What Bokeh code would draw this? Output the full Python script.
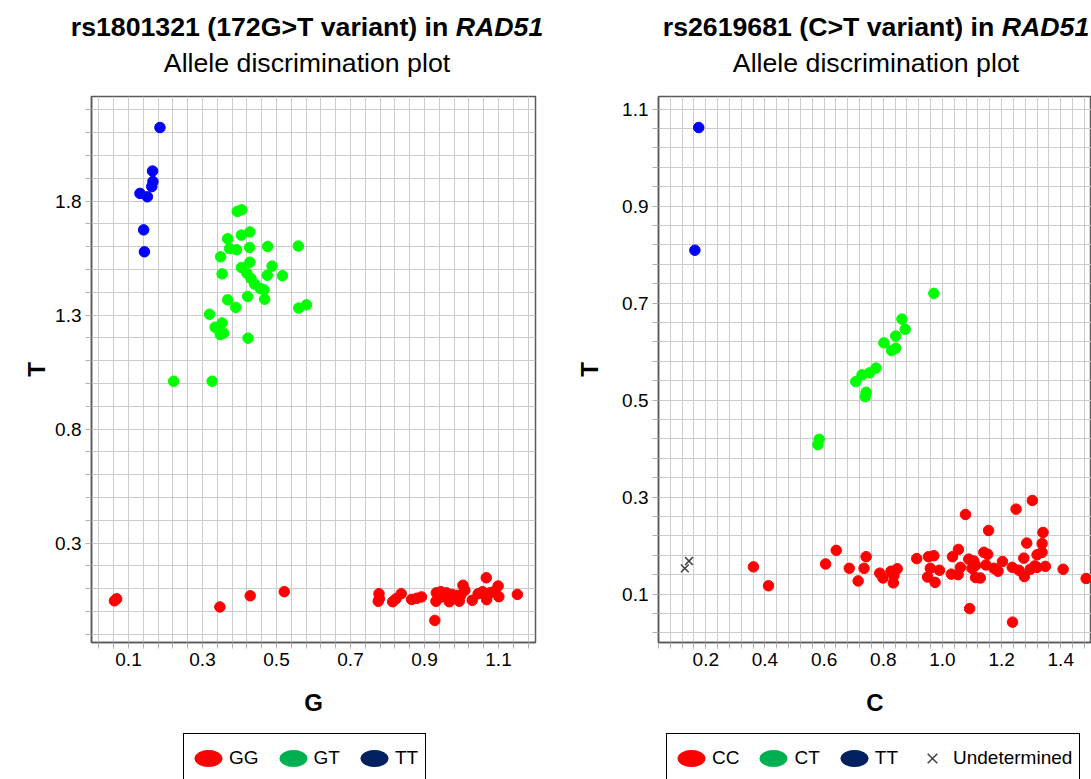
from bokeh.plotting import figure
from bokeh.models import FixedTicker, Range1d, Legend, LegendItem, Div, PrintfTickFormatter
from bokeh.layouts import row, column
from bokeh.embed import file_html
from bokeh.resources import INLINE

FONT = "Liberation Sans"

# ---------------- data: rs1801321 (G / T) ----------------
gg_x = [0.062, 0.068, 0.347, 0.429, 0.521, 0.777, 0.778, 0.775, 0.814, 0.823, 0.837, 0.865,
        0.879, 0.892, 0.928, 0.932, 0.931, 0.946, 0.959, 0.967, 0.980, 0.994, 1.004, 1.009,
        0.998, 1.029, 1.045, 1.067, 1.068, 1.077, 1.099, 1.101, 1.151, 0.944, 0.974, 1.057,
        1.088, 0.989]
gg_y = [0.047, 0.056, 0.020, 0.069, 0.087, 0.078, 0.056, 0.045, 0.043, 0.056, 0.078, 0.053,
        0.058, 0.064, -0.039, 0.082, 0.045, 0.064, 0.082, 0.043, 0.064, 0.045, 0.115, 0.093,
        0.071, 0.049, 0.078, 0.148, 0.052, 0.082, 0.112, 0.065, 0.075, 0.087, 0.075, 0.087,
        0.087, 0.071]
gt_x = [0.394, 0.406, 0.428, 0.405, 0.368, 0.373, 0.392, 0.427, 0.476, 0.559, 0.349, 0.428,
        0.405, 0.488, 0.353, 0.420, 0.431, 0.475, 0.516, 0.441, 0.456, 0.466, 0.468, 0.368,
        0.422, 0.390, 0.560, 0.581, 0.319, 0.353, 0.334, 0.348, 0.357, 0.423, 0.222, 0.326]
gt_y = [1.755, 1.762, 1.665, 1.651, 1.635, 1.592, 1.587, 1.597, 1.601, 1.603, 1.556, 1.532,
        1.509, 1.515, 1.481, 1.484, 1.461, 1.475, 1.473, 1.436, 1.417, 1.411, 1.370, 1.367,
        1.382, 1.334, 1.331, 1.345, 1.304, 1.266, 1.247, 1.215, 1.221, 1.199, 1.010, 1.010]
tt1_x = [0.185, 0.165, 0.166, 0.163, 0.131, 0.151, 0.141, 0.143]
tt1_y = [2.123, 1.932, 1.886, 1.864, 1.834, 1.819, 1.674, 1.578]

# ---------------- data: rs2619681 (C / T) ----------------
cc_x = [0.361, 0.412, 0.605, 0.641, 0.685, 0.715, 0.735, 0.742, 0.788, 0.799, 0.826, 0.847,
        0.834, 0.836, 0.913, 0.953, 0.971, 0.959, 0.950, 0.975, 0.990, 1.034, 1.054, 1.061,
        1.030, 1.053, 1.078, 1.089, 1.106, 1.112, 1.112, 1.128, 1.092, 1.140, 1.153, 1.147,
        1.156, 1.188, 1.203, 1.236, 1.237, 1.249, 1.259, 1.275, 1.277, 1.285, 1.304, 1.320,
        1.337, 1.337, 1.340, 1.348, 1.312, 1.297, 1.408, 1.486, 1.100, 1.174, 1.320]
cc_y = [0.156, 0.117, 0.162, 0.190, 0.153, 0.127, 0.153, 0.177, 0.143, 0.133, 0.147, 0.152,
        0.123, 0.138, 0.173, 0.177, 0.179, 0.153, 0.135, 0.124, 0.149, 0.177, 0.192, 0.155,
        0.141, 0.140, 0.264, 0.172, 0.168, 0.159, 0.134, 0.133, 0.070, 0.186, 0.182, 0.160,
        0.231, 0.147, 0.167, 0.155, 0.042, 0.275, 0.149, 0.174, 0.136, 0.205, 0.293, 0.181,
        0.186, 0.204, 0.227, 0.157, 0.158, 0.151, 0.151, 0.132, 0.153, 0.153, 0.155]
ct_x = [0.971, 0.863, 0.874, 0.842, 0.802, 0.842, 0.828, 0.775, 0.753, 0.728, 0.707, 0.742,
        0.739, 0.583, 0.579]
ct_y = [0.720, 0.667, 0.646, 0.632, 0.618, 0.607, 0.602, 0.566, 0.556, 0.552, 0.538, 0.516,
        0.507, 0.419, 0.408]
tt2_x = [0.176, 0.163]
tt2_y = [1.062, 0.809]
und_x = [0.129, 0.143]
und_y = [0.153, 0.168]

# ---------------- ticks ----------------
l_xmaj = [0.1, 0.3, 0.5, 0.7, 0.9, 1.1]
l_xmin = [round(0.02 + 0.04 * k, 2) for k in range(30)]
l_ymaj = [0.3, 0.8, 1.3, 1.8]
l_ymin = [round(-0.1 + 0.1 * k, 1) for k in range(24)]
r_xmaj = [0.2, 0.4, 0.6, 0.8, 1.0, 1.2, 1.4]
r_xmin = [round(0.04 + 0.04 * k, 2) for k in range(38)]
r_ymaj = [0.1, 0.3, 0.5, 0.7, 0.9, 1.1]
r_ymin = [round(0.02 + 0.04 * k, 2) for k in range(28)]

GRID = "#cccccc"
TICK = "#b0b0b0"
FRAME = "#595959"
UND = "#404040"


def make_fig(width, bl, br, xr, yr, xmaj, xmin, ymaj, ymin, xlabel, ylabel, ystand):
    p = figure(width=width, height=640, x_range=Range1d(*xr), y_range=Range1d(*yr),
               output_backend="svg", toolbar_location=None,
               min_border_left=bl, min_border_right=br, min_border_top=8, min_border_bottom=86)
    xt = FixedTicker(ticks=xmaj, minor_ticks=[v for v in xmin if v not in xmaj])
    yt = FixedTicker(ticks=ymaj, minor_ticks=[v for v in ymin if v not in ymaj])
    p.xaxis.ticker = xt
    p.xgrid.ticker = xt
    p.yaxis.ticker = yt
    p.ygrid.ticker = yt
    for g in (p.xgrid, p.ygrid):
        g.grid_line_color = GRID
        g.minor_grid_line_color = GRID
        g.grid_line_width = 1
        g.minor_grid_line_width = 1
    for ax in (p.xaxis, p.yaxis):
        ax.formatter = PrintfTickFormatter(format="%.1f")
        ax.axis_line_color = FRAME
        ax.axis_line_width = 1.5
        ax.major_tick_line_color = TICK
        ax.minor_tick_line_color = TICK
        ax.major_tick_out = 6
        ax.major_tick_in = 0
        ax.minor_tick_out = 6
        ax.minor_tick_in = 0
        ax.major_label_text_font = FONT
        ax.major_label_text_font_size = "19px"
        ax.major_label_text_color = "black"
        ax.major_label_standoff = 4
        ax.axis_label_text_font = FONT
        ax.axis_label_text_font_size = "24px"
        ax.axis_label_text_font_style = "bold"
        ax.axis_label_text_color = "black"
    p.xaxis.axis_label = xlabel
    p.xaxis.axis_label_standoff = 20
    p.yaxis.axis_label = ylabel
    p.yaxis.axis_label_standoff = ystand
    p.outline_line_color = FRAME
    p.outline_line_width = 1.5
    p.outline_line_alpha = 1
    return p


def dot(p, xs, ys, color):
    return p.scatter(xs, ys, size=10.5, fill_color=color, line_color=color)


def legend_fig(width, labels, colors, with_x, vx):
    q = figure(width=width, height=51, x_range=Range1d(0, 1), y_range=Range1d(0, 1),
               output_backend="svg", toolbar_location=None,
               x_axis_location=None, y_axis_location=None,
               min_border_left=0, min_border_right=0, min_border_top=0, min_border_bottom=0)
    q.grid.visible = False
    q.outline_line_color = None
    items = []
    for lab, col in zip(labels, colors):
        r = q.ellipse(x=[-10], y=[-10], width=27, height=16, width_units="screen",
                      height_units="screen", fill_color=col, line_color=col)
        items.append(LegendItem(label=lab, renderers=[r]))
    if with_x:
        r = q.scatter(x=[-10], y=[-10], marker="x", size=11, line_color=UND, line_width=1.5)
        items.append(LegendItem(label="Undetermined", renderers=[r]))
    leg = Legend(items=items, orientation="horizontal", location=(vx, -4),
                 glyph_width=34, glyph_height=34, label_standoff=4, spacing=17, padding=7,
                 margin=0, border_line_color="black", border_line_width=1, border_line_alpha=1,
                 label_text_font=FONT, label_text_font_size="19px", label_height=20,
                 label_text_color="black",
                 background_fill_color="white", background_fill_alpha=1)
    q.add_layout(leg)
    return q


# left chart
p1 = make_fig(568, 91, 33, (0.0, 1.2), (-0.136, 2.259), l_xmaj, l_xmin, l_ymaj, l_ymin, "G", "T", 2)
dot(p1, gg_x, gg_y, "#ff0000")
dot(p1, gt_x, gt_y, "#00ff00")
dot(p1, tt1_x, tt1_y, "#0000ff")
q1 = legend_fig(568, ["GG", "GT", "TT"], ["#ff0000", "#00b050", "#002060"], False, 92)

# right chart
p2 = make_fig(523, 90, 0, (0.04, 1.504), (0.0, 1.126), r_xmaj, r_xmin, r_ymaj, r_ymin, "C", "T", 16)
dot(p2, cc_x, cc_y, "#ff0000")
dot(p2, ct_x, ct_y, "#00ff00")
dot(p2, tt2_x, tt2_y, "#0000ff")
p2.scatter(und_x, und_y, marker="x", size=11, line_color=UND, line_width=1.5)
q2 = legend_fig(523, ["CC", "CT", "TT"], ["#ff0000", "#00b050", "#002060"], True, 8)


def title_div(width, inner_w, left, t1, t2):
    html = ('<div style="width:%dpx;margin-left:%dpx;padding-top:9px;text-align:center;'
            'font-family:\'Liberation Sans\',Arial,sans-serif;color:#000;">'
            '<div style="font-weight:bold;font-size:26.7px;line-height:36px;white-space:nowrap;">%s</div>'
            '<div style="font-size:26.7px;line-height:36px;white-space:nowrap;">%s</div></div>'
            % (inner_w, left, t1, t2))
    return Div(text=html, width=width, height=88, margin=0)


d1 = title_div(568, 540, 37, "rs1801321 (172G&gt;T variant) in <i>RAD51</i>", "Allele discrimination plot")
d2 = title_div(523, 440, 88, "rs2619681 (C&gt;T variant) in <i>RAD51</i>", "Allele discrimination plot")

layout = row(column(d1, p1, q1, spacing=0), column(d2, p2, q2, spacing=0), spacing=0)
open("out.html", "w").write(file_html(layout, INLINE))
